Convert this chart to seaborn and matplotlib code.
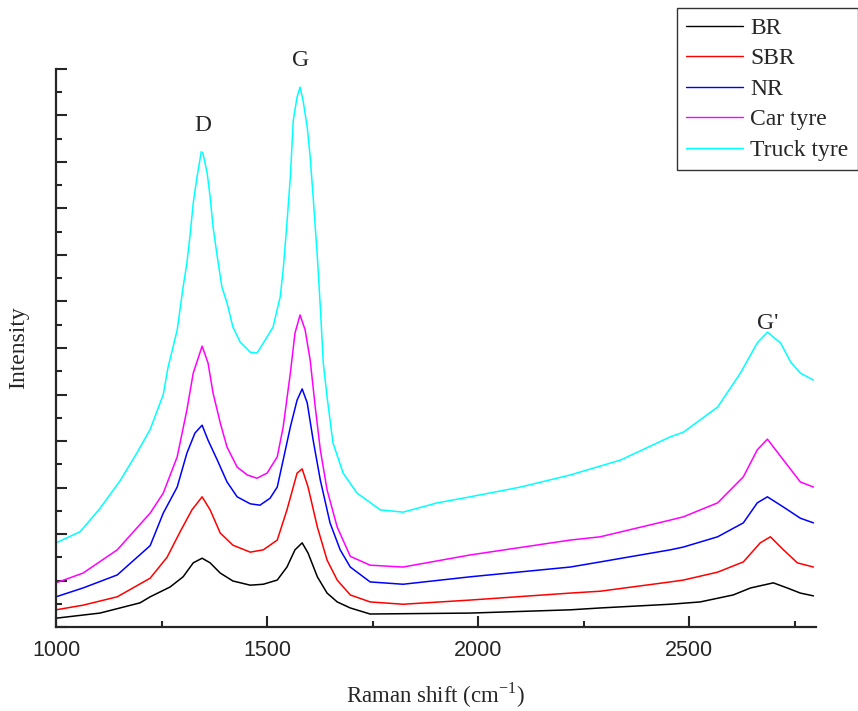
import pandas as pd
import matplotlib.pyplot as plt
import seaborn as sns
from matplotlib.ticker import MultipleLocator

# 各样品的拉曼光谱
br_x = [1000, 1104, 1199, 1223, 1270, 1301, 1325, 1346, 1365, 1389, 1419, 1460, 1491, 1524,
        1547, 1566, 1583, 1597, 1619, 1642, 1666, 1697, 1744, 1981, 2218, 2289, 2455, 2526,
        2604, 2645, 2699, 2732, 2763, 2794]
br_y = [0.19, 0.30, 0.52, 0.65, 0.86, 1.08, 1.38, 1.48, 1.38, 1.16, 0.99, 0.90, 0.92, 1.01,
        1.29, 1.66, 1.81, 1.59, 1.08, 0.73, 0.54, 0.41, 0.28, 0.30, 0.37, 0.41, 0.49, 0.54,
        0.69, 0.84, 0.95, 0.84, 0.73, 0.67]

sbr_x = [1000, 1064, 1145, 1223, 1263, 1294, 1322, 1346, 1365, 1389, 1419, 1460, 1491, 1524,
         1547, 1571, 1583, 1597, 1619, 1642, 1666, 1697, 1744, 1822, 1981, 2218, 2289, 2455,
         2486, 2567, 2628, 2668, 2692, 2723, 2756, 2794]
sbr_y = [0.37, 0.47, 0.65, 1.05, 1.50, 2.05, 2.52, 2.80, 2.52, 2.02, 1.76, 1.61, 1.66, 1.87,
         2.52, 3.31, 3.40, 3.01, 2.15, 1.44, 1.01, 0.69, 0.54, 0.49, 0.58, 0.73, 0.77, 0.97,
         1.01, 1.18, 1.40, 1.81, 1.94, 1.66, 1.38, 1.29]

nr_x = [1000, 1064, 1145, 1223, 1254, 1287, 1310, 1329, 1346, 1360, 1382, 1405, 1429, 1460,
        1483, 1507, 1524, 1538, 1555, 1571, 1583, 1595, 1609, 1626, 1649, 1673, 1697, 1744,
        1822, 1981, 2218, 2289, 2455, 2486, 2567, 2628, 2661, 2685, 2723, 2763, 2794]
nr_y = [0.65, 0.84, 1.12, 1.75, 2.45, 3.01, 3.74, 4.17, 4.34, 4.02, 3.59, 3.12, 2.80, 2.65,
        2.62, 2.77, 3.01, 3.59, 4.30, 4.88, 5.12, 4.82, 4.02, 3.16, 2.24, 1.66, 1.29, 0.97,
        0.92, 1.08, 1.29, 1.40, 1.66, 1.72, 1.94, 2.24, 2.67, 2.80, 2.58, 2.34, 2.24]

car_x = [1000, 1064, 1145, 1223, 1254, 1287, 1310, 1325, 1346, 1360, 1372, 1389, 1405, 1429,
         1453, 1476, 1500, 1524, 1538, 1555, 1566, 1578, 1590, 1602, 1614, 1626, 1642, 1666,
         1697, 1744, 1822, 1981, 2218, 2289, 2455, 2486, 2567, 2628, 2661, 2685, 2723, 2763,
         2794]
car_y = [0.95, 1.16, 1.66, 2.45, 2.88, 3.66, 4.67, 5.46, 6.04, 5.68, 5.03, 4.39, 3.87, 3.44,
         3.27, 3.20, 3.31, 3.66, 4.30, 5.46, 6.32, 6.71, 6.39, 5.74, 4.73, 3.81, 2.95, 2.15,
         1.52, 1.33, 1.29, 1.55, 1.87, 1.94, 2.30, 2.37, 2.67, 3.23, 3.81, 4.04, 3.59, 3.12,
         3.01]

truck_x = [1000, 1057, 1104, 1152, 1192, 1223, 1254, 1265, 1287, 1301, 1310, 1318, 1325, 1334,
           1344, 1348, 1358, 1365, 1372, 1382, 1393, 1405, 1419, 1436, 1460, 1476, 1500, 1514,
           1531, 1538, 1547, 1555, 1562, 1571, 1578, 1585, 1595, 1602, 1609, 1619, 1626, 1633,
           1642, 1656, 1680, 1713, 1768, 1822, 1903, 1981, 2100, 2218, 2337, 2455, 2486, 2567,
           2621, 2661, 2685, 2716, 2740, 2763, 2794]
truck_y = [1.81, 2.05, 2.55, 3.15, 3.75, 4.25, 5.00, 5.57, 6.39, 7.31, 7.83, 8.47, 9.12, 9.68,
           10.22, 10.19, 9.76, 9.25, 8.60, 7.96, 7.31, 6.97, 6.45, 6.13, 5.91, 5.89, 6.24, 6.45,
           7.10, 7.68, 8.69, 9.68, 10.90, 11.40, 11.61, 11.33, 10.75, 10.11, 9.25, 7.96, 6.88,
           5.68, 4.95, 3.96, 3.31, 2.88, 2.52, 2.47, 2.67, 2.80, 3.01, 3.27, 3.59, 4.09, 4.19,
           4.73, 5.46, 6.11, 6.34, 6.11, 5.70, 5.46, 5.31]

samples = ['BR', 'SBR', 'NR', 'Car tyre', 'Truck tyre']
colors = ['black', 'red', 'blue', 'magenta', 'cyan']
xs = [br_x, sbr_x, nr_x, car_x, truck_x]
ys = [br_y, sbr_y, nr_y, car_y, truck_y]

df = pd.concat([pd.DataFrame({'shift': x, 'intensity': y, 'sample': s})
                for x, y, s in zip(xs, ys, samples)], ignore_index=True)

sns.set_style('ticks')
plt.rcParams['font.family'] = ['Liberation Serif', 'DejaVu Serif']
plt.rcParams['mathtext.fontset'] = 'custom'
plt.rcParams['mathtext.rm'] = 'Liberation Serif'

fig = plt.figure(figsize=(8.58, 7.11), dpi=100)
ax = fig.add_axes([0.0653, 0.1181, 0.8857, 0.7849])

sns.lineplot(data=df, x='shift', y='intensity', hue='sample', hue_order=samples,
             palette=colors, linewidth=1.1, ax=ax, sort=False, legend=False)

ax.set_xlim(1000, 2800)
ax.set_ylim(0, 12)
ax.xaxis.set_minor_locator(MultipleLocator(250))
ax.yaxis.set_major_locator(MultipleLocator(1))
ax.yaxis.set_minor_locator(MultipleLocator(0.5))
ax.set_xticks([1000, 1500, 2000, 2500])
ax.set_yticklabels([])
ax.tick_params(which='major', direction='in', length=8, width=1.5)
ax.tick_params(which='minor', direction='in', length=4.5, width=1.5)
ax.tick_params(axis='x', which='major', labelsize=15.5, pad=9)
for lab in ax.get_xticklabels():
    lab.set_fontfamily('Liberation Sans')

for side in ['top', 'right']:
    ax.spines[side].set_visible(False)
for side in ['left', 'bottom']:
    ax.spines[side].set_linewidth(1.6)

ax.set_xlabel('Raman shift (cm$^{\\mathregular{-1}}$)', fontsize=16.5, labelpad=14)
ax.set_ylabel('Intensity', fontsize=17, labelpad=16)

# 峰位标注
ax.text(1348, 10.55, 'D', fontsize=17, ha='center', va='bottom')
ax.text(1580, 11.95, 'G', fontsize=17, ha='center', va='bottom')
ax.text(2685, 6.3, "G'", fontsize=17, ha='center', va='bottom')

handles = [plt.Line2D([], [], color=c, linewidth=1.0) for c in colors]
leg = fig.legend(handles, samples, loc='upper right', bbox_to_anchor=(0.9995, 0.989),
                 fontsize=17, frameon=True, fancybox=False, handlelength=2.4,
                 borderpad=0.4, labelspacing=0.38, handletextpad=0.3, borderaxespad=0)
leg.get_frame().set_edgecolor('black')
leg.get_frame().set_linewidth(1.0)

fig.savefig('out.png', dpi=100)
